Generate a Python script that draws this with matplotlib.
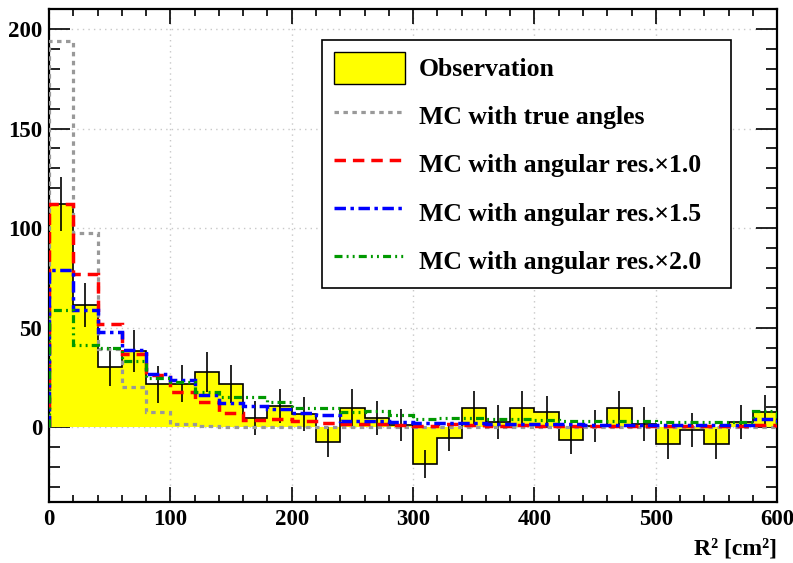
import numpy as np
import matplotlib.pyplot as plt
from matplotlib.lines import Line2D
from matplotlib.patches import Patch
from matplotlib.ticker import MultipleLocator

# binning: 30 bins of 20 cm^2 from 0 to 600
edges = np.arange(0, 601, 20)

obs = [112, 61.5, 30.5, 38.5, 21.5, 22, 27.7, 21.8, 4.7, 10.7,
       6.8, -7.3, 9.7, 4.7, 1, -18.2, -5.3, 9.7, 2.7, 9.7,
       7.7, -6.5, 0.5, 9.7, 1.8, -8.5, -1.5, -8.5, 2.7, 7.5]
obs_err = [13.5, 11, 10, 10.5, 9.5, 9.5, 10, 9.5, 8.7, 8.7,
           8.5, 7.5, 9.5, 8.5, 8, 7, 6.5, 8.7, 8.5, 8.7,
           8, 7, 8, 8.7, 8.5, 7.5, 8.5, 7.5, 8.5, 8.5]

mc_true = [194, 97.5, 39.5, 20, 7.7, 1.8, 0.7, 0.4, 0.2, 0.1,
           0.1, 0, 0, 0, 0, 0, 0, 0, 0, 0,
           0, 0, 0, 0, 0, 0, 0, 0, 0, 0]
mc_res10 = [112, 77, 52, 37, 26.5, 17.5, 12.5, 7, 3.5, 4,
            3, 2, 1.5, 1.5, 1, 0.5, 1.5, 1, 0.5, 1,
            0.5, 0.5, 0.5, 0.5, 0.5, 0.5, 0.5, 0.5, 0.5, 1]
mc_res15 = [79, 59, 47.7, 39, 27, 24, 16, 12, 10.5, 9,
            7, 6, 3, 3, 2.7, 2, 2, 2, 1.8, 1.5,
            1.5, 1.5, 1.2, 1.2, 1.2, 1, 1, 1, 1, 4]
mc_res20 = [59, 41.5, 40, 33.5, 25, 22.7, 17.7, 15, 15, 12.7,
            9.7, 9.5, 7.5, 8, 6, 4, 4.5, 4.5, 4, 4,
            3.5, 3, 3, 3, 3, 2.5, 2.5, 2.5, 2.5, 8]

labels = ["Observation", "MC with true angles", "MC with angular res.\u00d71.0",
          "MC with angular res.\u00d71.5", "MC with angular res.\u00d72.0"]

plt.rcParams['font.family'] = ['Liberation Serif', 'DejaVu Serif']
plt.rcParams['font.weight'] = 'bold'

fig = plt.figure(figsize=(7.93, 5.63), dpi=100)
ax = fig.add_axes([0.0618, 0.1083, 0.9182, 0.8757])

centers = 0.5 * (edges[:-1] + edges[1:])

ax.stairs(obs, edges, baseline=0, fill=True, color='#ffff00', zorder=2)
ax.stairs(obs, edges, baseline=0, color='k', lw=1.2, zorder=3)
ax.errorbar(centers, obs, yerr=obs_err, fmt='none', ecolor='k', elinewidth=1.2, zorder=3)

ax.stairs(mc_true, edges, color='#999999', lw=2.3, ls=(0, (1.4, 1.4)), zorder=4)
ax.stairs(mc_res10, edges, color='#ff0000', lw=2.5, ls=(0, (3.3, 2)), zorder=5)
ax.stairs(mc_res15, edges, color='#0000ff', lw=2.5, ls=(0, (3.3, 1.3, 1, 1.3)), zorder=6)
ax.stairs(mc_res20, edges, color='#009900', lw=2.3, ls=(0, (2.5, 1.3, 0.6, 1.3, 0.6, 1.3)), zorder=7)

ax.set_xlim(0, 600)
ax.set_ylim(-37.5, 210)
ax.xaxis.set_major_locator(MultipleLocator(100))
ax.xaxis.set_minor_locator(MultipleLocator(20))
ax.yaxis.set_major_locator(MultipleLocator(50))
ax.yaxis.set_minor_locator(MultipleLocator(10))
ax.grid(True, which='major', color='#c8c8c8', ls=(0, (1, 3)), lw=1.0, zorder=0)
ax.set_axisbelow(True)

ax.tick_params(which='both', direction='in', top=True, right=True, labelsize=16.5, width=1.2)
ax.tick_params(axis='x', which='major', length=11, pad=5)
ax.tick_params(axis='x', which='minor', length=5)
ax.tick_params(axis='y', which='major', length=15, pad=5)
ax.tick_params(axis='y', which='minor', length=8)
for s in ax.spines.values():
    s.set_linewidth(1.6)

ax.set_xlabel("R\u00b2 [cm\u00b2]", loc='right', fontsize=17, fontweight='bold', labelpad=6)

handles = [Patch(facecolor='#ffff00', edgecolor='k', lw=1.0),
           Line2D([], [], color='#999999', lw=2.3, ls=(0, (1.4, 1.4))),
           Line2D([], [], color='#ff0000', lw=2.5, ls=(0, (3.3, 2))),
           Line2D([], [], color='#0000ff', lw=2.5, ls=(0, (3.3, 1.3, 1, 1.3))),
           Line2D([], [], color='#009900', lw=2.3, ls=(0, (2.5, 1.3, 0.6, 1.3, 0.6, 1.3)))]
leg = ax.legend(handles, labels, loc='upper left', bbox_to_anchor=(0.375, 0.44, 0.562, 0.497),
                mode='expand', prop={'size': 18.5, 'weight': 'bold'}, frameon=True,
                fancybox=False, edgecolor='k', framealpha=1, handlelength=2.76,
                handleheight=1.55, handletextpad=0.55, labelspacing=0.62,
                borderpad=0.45, borderaxespad=0)
leg.get_frame().set_linewidth(1.2)
leg.set_zorder(10)

fig.savefig("out.png", dpi=100)
